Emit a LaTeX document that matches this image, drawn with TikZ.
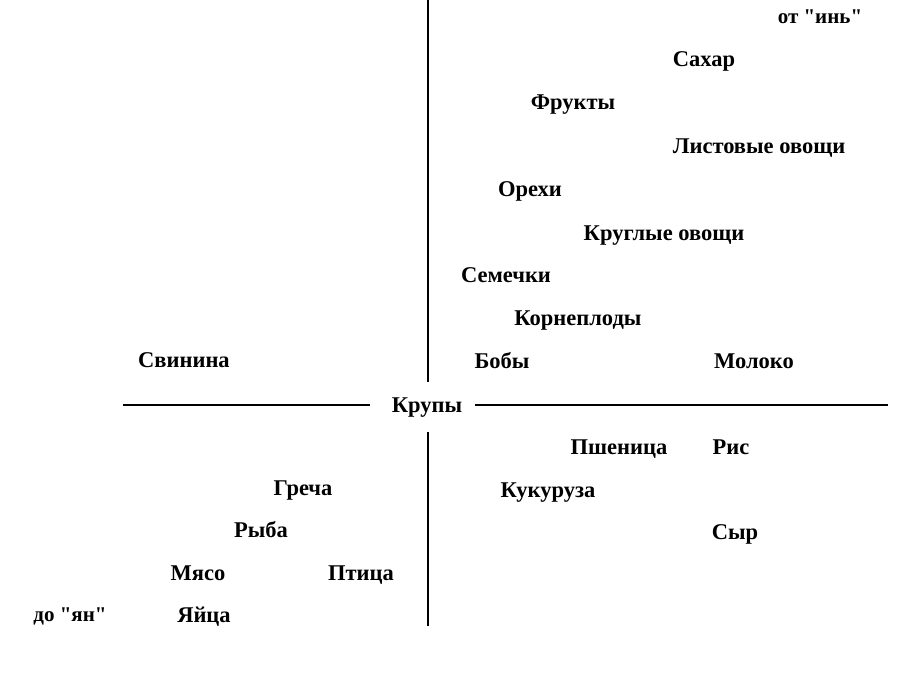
\documentclass[tikz,border=0pt]{standalone}
\usepackage{fontspec}
\newfontfamily\labelfont{Liberation Serif}
\begin{document}
\begin{tikzpicture}[x=1pt,y=-1pt,
  lbl/.style={inner sep=0pt,text height=17pt,text depth=3pt,font=\labelfont\fontsize{22.5}{26}\selectfont\bfseries},
  blbl/.style={inner sep=0pt,text height=15pt,text depth=3pt,font=\labelfont\fontsize{21}{24}\selectfont\bfseries},
  axis/.style={line width=1.6pt}]
\useasboundingbox[fill=white] (0,0) rectangle (912,690);
% labels
\node[blbl] (yin) at (820,18) {от "инь"};
\node[lbl] (sah) at (704,60) {Сахар};
\node[lbl] (fru) at (573,103) {Фрукты};
\node[lbl] (lis) at (759,146) {Листовые овощи};
\node[lbl] (ore) at (530,189) {Орехи};
\node[lbl] (kru) at (664,233) {Круглые овощи};
\node[lbl] (sem) at (506,275) {Семечки};
\node[lbl] (kor) at (578,318) {Корнеплоды};
\node[lbl] (bob) at (502,361) {Бобы};
\node[lbl] (mol) at (754,361) {Молоко};
\node[lbl] (svi) at (184,360) {Свинина};
\node[lbl] (krup) at (427,405) {Крупы};
\node[lbl] (psh) at (619,447) {Пшеница};
\node[lbl] (ris) at (731,447) {Рис};
\node[lbl] (kuk) at (548,490) {Кукуруза};
\node[lbl] (syr) at (735,532) {Сыр};
\node[lbl] (gre) at (303,488) {Греча};
\node[lbl] (ryb) at (261,530) {Рыба};
\node[lbl] (mya) at (198,573) {Мясо};
\node[lbl] (pti) at (361,573) {Птица};
\node[blbl] (yan) at (70,615) {до "ян"};
\node[lbl] (yai) at (204,615) {Яйца};
% axes
\coordinate (top) at (428,0);
\coordinate (vt) at (428,382);
\coordinate (vb) at (428,432);
\coordinate (bot) at (428,626);
\coordinate (hl) at (123,405);
\coordinate (hlr) at (370,405);
\coordinate (hrl) at (475,405);
\coordinate (hr) at (888,405);
\draw[axis] (top) -- (vt);
\draw[axis] (vb) -- (bot);
\draw[axis] (hl) -- (hlr);
\draw[axis] (hrl) -- (hr);
\end{tikzpicture}
\end{document}
